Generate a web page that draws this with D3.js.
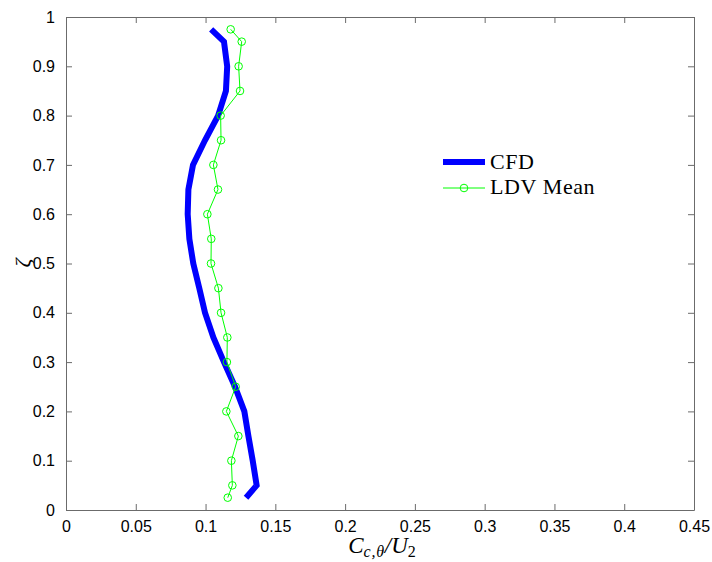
<!DOCTYPE html>
<html>
<head>
<meta charset="utf-8">
<script src="https://cdn.jsdelivr.net/npm/d3@7"></script>
<style>
  html, body { margin: 0; padding: 0; background: #fff; }
  svg { display: block; }
  .tick text { font-family: "Liberation Sans", Arial, sans-serif; font-size: 16px; fill: #000; }
</style>
</head>
<body>
<svg id="chart" width="712" height="562"></svg>
<script>
// Spanwise position ζ shared by both profiles
const zeta = [0.025, 0.05, 0.10, 0.15, 0.20, 0.25, 0.30, 0.35, 0.40, 0.45, 0.50,
              0.55, 0.60, 0.65, 0.70, 0.75, 0.80, 0.85, 0.90, 0.95, 0.975];
// CFD prediction of C_{c,θ}/U_2
const cfdValues = [0.129, 0.1366, 0.1338, 0.1307, 0.1278, 0.1211, 0.1132, 0.1056, 0.0996, 0.0955, 0.0912,
                   0.0884, 0.0872, 0.0877, 0.0910, 0.0996, 0.1090, 0.1146, 0.1155, 0.1132, 0.1040];
// LDV measured mean of C_{c,θ}/U_2
const ldvValues = [0.1159, 0.1192, 0.1185, 0.1235, 0.1149, 0.1216, 0.1153, 0.1156, 0.1111, 0.1092, 0.1039,
                   0.1041, 0.1013, 0.1089, 0.1056, 0.1111, 0.1108, 0.1247, 0.1237, 0.1259, 0.1180];
const xTicks = [0, 0.05, 0.1, 0.15, 0.2, 0.25, 0.3, 0.35, 0.4, 0.45];
const yTicks = [0, 0.1, 0.2, 0.3, 0.4, 0.5, 0.6, 0.7, 0.8, 0.9, 1];
const seriesNames = ["CFD", "LDV Mean"];

const svg = d3.select("#chart");
const L = 66, R = 694, T = 17, B = 510;
const x = d3.scaleLinear().domain([0, 0.45]).range([L, R]);
const y = d3.scaleLinear().domain([0, 1]).range([B, T]);
const axisColor = "#6b6b6b";
const tickLen = 6;
const serif = "'Liberation Serif', 'Times New Roman', serif";

svg.append("rect").attr("width", 712).attr("height", 562).attr("fill", "#fff");

// Axes on all four sides with inward ticks
function styleAxis(g) {
  g.select(".domain").attr("stroke", axisColor);
  g.selectAll(".tick line").attr("stroke", axisColor);
}
svg.append("g").attr("transform", `translate(0,${B})`)
  .call(d3.axisBottom(x).tickValues(xTicks).tickFormat(d3.format("")).tickSizeInner(-tickLen).tickSizeOuter(0).tickPadding(11))
  .call(styleAxis);
svg.append("g").attr("transform", `translate(0,${T})`)
  .call(d3.axisTop(x).tickValues(xTicks).tickFormat("").tickSizeInner(-tickLen).tickSizeOuter(0))
  .call(styleAxis);
svg.append("g").attr("transform", `translate(${L},0)`)
  .call(d3.axisLeft(y).tickValues(yTicks).tickFormat(d3.format("")).tickSizeInner(-tickLen).tickSizeOuter(0).tickPadding(11))
  .call(styleAxis);
svg.append("g").attr("transform", `translate(${R},0)`)
  .call(d3.axisRight(y).tickValues(yTicks).tickFormat("").tickSizeInner(-tickLen).tickSizeOuter(0))
  .call(styleAxis);
svg.selectAll(".tick text").attr("fill", "#000");

const cfdData = zeta.map((z, i) => ({ z, v: cfdValues[i] }));
const ldvData = zeta.map((z, i) => ({ z, v: ldvValues[i] }));
const line = d3.line().x(d => x(d.v)).y(d => y(d.z));

// CFD profile
svg.append("path").datum(cfdData)
  .attr("d", line).attr("fill", "none")
  .attr("stroke", "#0000ff").attr("stroke-width", 6)
  .attr("stroke-linejoin", "miter").attr("stroke-linecap", "butt");

// LDV measurements
svg.append("path").datum(ldvData)
  .attr("d", line).attr("fill", "none")
  .attr("stroke", "#00ff00").attr("stroke-width", 1);
svg.append("g").selectAll("circle").data(ldvData).join("circle")
  .attr("cx", d => x(d.v)).attr("cy", d => y(d.z)).attr("r", 3.8)
  .attr("fill", "none").attr("stroke", "#00ff00").attr("stroke-width", 1);

// Legend
const lg = svg.append("g");
const lx0 = 443, lx1 = 485;
lg.append("line").attr("x1", lx0).attr("x2", lx1).attr("y1", 162).attr("y2", 162)
  .attr("stroke", "#0000ff").attr("stroke-width", 6);
lg.append("line").attr("x1", lx0).attr("x2", lx1).attr("y1", 188).attr("y2", 188)
  .attr("stroke", "#00ff00").attr("stroke-width", 1);
lg.append("circle").attr("cx", (lx0 + lx1) / 2).attr("cy", 188).attr("r", 3.8)
  .attr("fill", "none").attr("stroke", "#00ff00");
lg.selectAll("text").data(seriesNames).join("text")
  .attr("x", 490).attr("y", (d, i) => 168.5 + i * 25.5)
  .attr("font-family", serif)
  .attr("font-size", 22).attr("letter-spacing", 0.6).attr("fill", "#000")
  .text(d => d);

// x-axis label: C_{c,θ}/U_2
const xl = svg.append("text").attr("x", 382).attr("y", 553)
  .attr("text-anchor", "middle")
  .attr("font-family", serif)
  .attr("font-size", 23).attr("fill", "#000");
xl.append("tspan").attr("font-style", "italic").text("C");
xl.append("tspan").attr("font-style", "italic").attr("font-size", 16).attr("letter-spacing", 0.8).attr("dy", 4).text("c,θ");
xl.append("tspan").attr("font-style", "italic").attr("dy", -4).text("/U");
xl.append("tspan").attr("font-size", 16).attr("dy", 4).text("2");

// y-axis label: ζ
svg.append("text").attr("transform", "translate(30,263) rotate(-90)")
  .attr("text-anchor", "middle")
  .attr("font-family", serif)
  .attr("font-style", "italic").attr("font-size", 22).attr("fill", "#000")
  .text("ζ");
</script>
</body>
</html>
